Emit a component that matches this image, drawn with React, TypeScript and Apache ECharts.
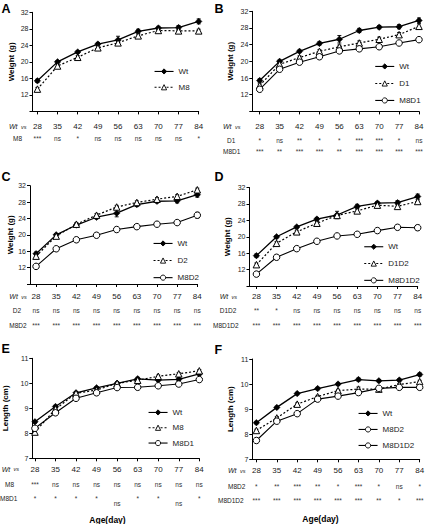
import React, { useEffect, useRef } from "react";
import * as echarts from "echarts";

// ---------- data ----------
const days = [28, 35, 42, 49, 56, 63, 70, 77, 84];

// body weight (g)
const wtWeight = [15.4, 20.0, 22.4, 24.3, 25.3, 27.4, 28.2, 28.3, 29.8];
const wtWeightErr = [0.4, 0.3, 0.3, 0.4, 0.9, 0.5, 0.4, 0.5, 0.6];
const m8Weight = [13.4, 19.0, 21.1, 23.4, 24.6, 26.3, 27.6, 27.5, 27.5];
const m8WeightErr = [0.4, 0.4, 0.4, 0.4, 0.4, 0.4, 0.4, 0.4, 0.4];
const d1Weight = [14.2, 19.3, 20.9, 22.4, 23.5, 24.4, 25.3, 26.4, 28.4];
const d1WeightErr = [0.4, 0.4, 0.4, 0.4, 0.4, 0.5, 0.5, 0.5, 0.6];
const m8d1Weight = [13.3, 18.1, 19.8, 21.1, 22.5, 23.0, 23.5, 24.4, 25.2];
const m8d1WeightErr = [0.5, 0.4, 0.4, 0.4, 0.4, 0.4, 0.5, 0.4, 0.4];
const d2Weight = [14.8, 19.7, 22.6, 24.8, 26.8, 27.9, 28.7, 29.4, 31.0];
const d2WeightErr = [0.4, 0.4, 0.4, 0.4, 0.4, 0.4, 0.4, 0.4, 0.4];
const m8d2Weight = [12.3, 16.6, 18.8, 19.9, 21.3, 22.0, 22.6, 23.0, 24.8];
const m8d2WeightErr = [0.4, 0.4, 0.4, 0.4, 0.4, 0.5, 0.5, 0.4, 0.7];
const d1d2Weight = [13.2, 18.4, 21.2, 23.3, 25.2, 26.3, 27.7, 27.4, 28.6];
const d1d2WeightErr = [0.4, 0.4, 0.4, 0.4, 0.4, 0.4, 0.4, 0.5, 0.4];
const m8d1d2Weight = [10.9, 15.0, 17.1, 18.9, 20.2, 20.6, 21.5, 22.3, 22.2];
const m8d1d2WeightErr = [0.4, 0.4, 0.3, 0.3, 0.3, 0.3, 0.3, 0.4, 0.6];

// body length (cm)
const wtLength = [8.46, 9.07, 9.62, 9.82, 10.0, 10.18, 10.13, 10.16, 10.38];
const wtLengthErr = [0.05, 0.05, 0.05, 0.05, 0.05, 0.06, 0.05, 0.05, 0.06];
const m8Length = [8.05, 8.97, 9.6, 9.73, 10.0, 10.12, 10.28, 10.38, 10.5];
const m8LengthErr = [0.05, 0.05, 0.05, 0.05, 0.05, 0.05, 0.05, 0.05, 0.05];
const m8d1Length = [8.2, 8.82, 9.4, 9.62, 9.83, 9.84, 9.9, 9.97, 10.15];
const m8d1LengthErr = [0.05, 0.05, 0.05, 0.05, 0.05, 0.05, 0.05, 0.05, 0.05];
const m8d2Length = [8.15, 8.65, 9.2, 9.5, 9.74, 9.8, 9.8, 9.98, 10.1];
const m8d2LengthErr = [0.05, 0.05, 0.05, 0.05, 0.05, 0.08, 0.05, 0.05, 0.05];
const m8d1d2Length = [7.75, 8.52, 8.82, 9.4, 9.52, 9.66, 9.83, 9.87, 9.87];
const m8d1d2LengthErr = [0.06, 0.05, 0.05, 0.05, 0.05, 0.05, 0.05, 0.05, 0.05];

// significance vs Wt
const sigA_M8 = ["***", "ns", "*", "ns", "ns", "ns", "ns", "ns", "*"];
const sigB_D1 = ["*", "ns", "**", "*", "*", "***", "***", "*", "ns"];
const sigB_M8D1 = ["***", "**", "***", "***", "**", "***", "***", "***", "***"];
const sigC_D2 = ["ns", "ns", "ns", "ns", "ns", "ns", "ns", "ns", "ns"];
const sigC_M8D2 = ["***", "***", "***", "***", "***", "***", "***", "***", "***"];
const sigD_D1D2 = ["**", "*", "ns", "ns", "ns", "ns", "ns", "ns", "ns"];
const sigD_M8D1D2 = ["***", "***", "***", "***", "***", "***", "***", "***", "***"];
const sigE_M8 = ["***", "ns", "ns", "ns", "ns", "ns", "ns", "ns", "ns"];
const sigE_M8D1 = ["*", "*", "*", "*", "ns", "*", "*", "ns", "*"];
const sigF_M8D2 = ["*", "**", "***", "**", "*", "***", "*", "ns", "*"];
const sigF_M8D1D2 = ["***", "***", "***", "***", "***", "***", "**", "*", "***"];

const weightTicks = { min: 8, max: 32, interval: 4 };
const lengthTicks = { min: 7, max: 11, interval: 1 };

// ---------- layout ----------
const FONT = "'Liberation Sans', Arial, Helvetica, sans-serif";
const LEG_H = 6.5;

type Kind = "wt" | "tri" | "circ";
interface Line { name: string; data: number[]; err: number[]; kind: Kind }
interface Row { label: string; sig: string[]; y: number; x: number; dropNs?: boolean }
interface Panel {
  letter: string; lx: number; ly: number;
  grid: { left: number; top: number; width: number; height: number };
  xMin: number; tickY: number; wtVsX: number;
  rows: Row[]; lines: Line[];
  legend: { left: number; firstY: number; step: number };
  yName: string; nameGap: number; ticks: { min: number; max: number; interval: number };
  age?: { x: number; y: number };
}

const panels: Panel[] = [
  {
    letter: "A", lx: 1.5, ly: 2.5,
    grid: { left: 32.5, top: 12.3, width: 166.2, height: 99.1 },
    xMin: 26.3, tickY: 126.7, wtVsX: 9,
    rows: [{ label: "M8", sig: sigA_M8, y: 138.3, x: 13 }],
    lines: [
      { name: "Wt", data: wtWeight, err: wtWeightErr, kind: "wt" },
      { name: "M8", data: m8Weight, err: m8WeightErr, kind: "tri" },
    ],
    legend: { left: 154, firstY: 70.7, step: 14.3 },
    yName: "Weight (g)", nameGap: 17, ticks: weightTicks,
  },
  {
    letter: "B", lx: 214.5, ly: 2.5,
    grid: { left: 252.3, top: 11.3, width: 166.7, height: 100.1 },
    xMin: 25.4, tickY: 126.7, wtVsX: 223,
    rows: [
      { label: "D1", sig: sigB_D1, y: 140, x: 227 },
      { label: "M8D1", sig: sigB_M8D1, y: 151.7, x: 223 },
    ],
    lines: [
      { name: "Wt", data: wtWeight, err: wtWeightErr, kind: "wt" },
      { name: "D1", data: d1Weight, err: d1WeightErr, kind: "tri" },
      { name: "M8D1", data: m8d1Weight, err: m8d1WeightErr, kind: "circ" },
    ],
    legend: { left: 374.7, firstY: 65.7, step: 15.5 },
    yName: "Weight (g)", nameGap: 18, ticks: weightTicks,
  },
  {
    letter: "C", lx: 1.5, ly: 170,
    grid: { left: 30, top: 185.7, width: 167.3, height: 98.3 },
    xMin: 25.9, tickY: 296.7, wtVsX: 9.3,
    rows: [
      { label: "D2", sig: sigC_D2, y: 310, x: 12.7 },
      { label: "M8D2", sig: sigC_M8D2, y: 325, x: 9.3 },
    ],
    lines: [
      { name: "Wt", data: wtWeight, err: wtWeightErr, kind: "wt" },
      { name: "D2", data: d2Weight, err: d2WeightErr, kind: "tri" },
      { name: "M8D2", data: m8d2Weight, err: m8d2WeightErr, kind: "circ" },
    ],
    legend: { left: 153, firstY: 242.7, step: 15.6 },
    yName: "Weight (g)", nameGap: 16, ticks: weightTicks,
  },
  {
    letter: "D", lx: 214.5, ly: 170,
    grid: { left: 249.5, top: 187.5, width: 168.2, height: 98.5 },
    xMin: 25.6, tickY: 296.7, wtVsX: 219.7,
    rows: [
      { label: "D1D2", sig: sigD_D1D2, y: 310.7, x: 219.7 },
      { label: "M8D1D2", sig: sigD_M8D1D2, y: 325, x: 213 },
    ],
    lines: [
      { name: "Wt", data: wtWeight, err: wtWeightErr, kind: "wt" },
      { name: "D1D2", data: d1d2Weight, err: d1d2WeightErr, kind: "tri" },
      { name: "M8D1D2", data: m8d1d2Weight, err: m8d1d2WeightErr, kind: "circ" },
    ],
    legend: { left: 363.7, firstY: 246, step: 15.3 },
    yName: "Weight (g)", nameGap: 18.5, ticks: weightTicks,
  },
  {
    letter: "E", lx: 1.5, ly: 342.5,
    grid: { left: 32.3, top: 358.3, width: 167, height: 100 },
    xMin: 27.1, tickY: 469.3, wtVsX: 1.7,
    rows: [
      { label: "M8", sig: sigE_M8, y: 484, x: 5 },
      { label: "M8D1", sig: sigE_M8D1, y: 498.3, x: 0, dropNs: true },
    ],
    lines: [
      { name: "Wt", data: wtLength, err: wtLengthErr, kind: "wt" },
      { name: "M8", data: m8Length, err: m8LengthErr, kind: "tri" },
      { name: "M8D1", data: m8d1Length, err: m8d1LengthErr, kind: "circ" },
    ],
    legend: { left: 148, firstY: 411.7, step: 13.8 },
    yName: "Length (cm)", nameGap: 22.5, ticks: lengthTicks,
    age: { x: 107.5, y: 519.5 },
  },
  {
    letter: "F", lx: 214.5, ly: 343,
    grid: { left: 252.3, top: 359, width: 167.4, height: 100.3 },
    xMin: 26.6, tickY: 470.7, wtVsX: 228,
    rows: [
      { label: "M8D2", sig: sigF_M8D2, y: 486, x: 228 },
      { label: "M8D1D2", sig: sigF_M8D1D2, y: 500, x: 218 },
    ],
    lines: [
      { name: "Wt", data: wtLength, err: wtLengthErr, kind: "wt" },
      { name: "M8D2", data: m8d2Length, err: m8d2LengthErr, kind: "tri" },
      { name: "M8D1D2", data: m8d1d2Length, err: m8d1d2LengthErr, kind: "circ" },
    ],
    legend: { left: 358, firstY: 412.7, step: 14.5 },
    yName: "Length (cm)", nameGap: 18.3, ticks: lengthTicks,
    age: { x: 320.5, y: 518.5 },
  },
];

function styleFor(kind: Kind) {
  if (kind === "wt") {
    return {
      symbol: "diamond", symbolSize: 6.5,
      itemStyle: { color: "#000", borderColor: "#000", borderWidth: 0.5 },
      lineStyle: { color: "#000", width: 1.3, type: "solid" as const },
    };
  }
  if (kind === "tri") {
    return {
      symbol: "triangle", symbolSize: 6.5,
      itemStyle: { color: "#fff", borderColor: "#000", borderWidth: 1 },
      lineStyle: { color: "#000", width: 1.2, type: [2, 2] as any },
    };
  }
  return {
    symbol: "circle", symbolSize: 6.5,
    itemStyle: { color: "#fff", borderColor: "#000", borderWidth: 1 },
    lineStyle: { color: "#000", width: 1.1, type: "solid" as const },
  };
}

function buildOption() {
  const grid: any[] = [];
  const xAxis: any[] = [];
  const yAxis: any[] = [];
  const series: any[] = [];
  const legend: any[] = [];
  const graphic: any[] = [];

  panels.forEach((p, gi) => {
    grid.push({ ...p.grid, containLabel: false, outerBoundsMode: "none" });
    const axisBottom = p.grid.top + p.grid.height;

    const mainX = xAxis.length;
    xAxis.push({
      type: "value", gridIndex: gi, min: p.xMin, max: 84, position: "bottom",
      axisLine: { show: true, onZero: false, lineStyle: { color: "#000", width: 1 } },
      axisTick: { show: true, length: 3, customValues: days, lineStyle: { color: "#000" } },
      splitLine: { show: false },
      axisLabel: {
        customValues: days, fontSize: 8, color: "#222", fontFamily: FONT,
        verticalAlign: "middle", margin: p.tickY - axisBottom,
        formatter: (v: number) => String(v),
      },
    });
    p.rows.forEach((r) => {
      xAxis.push({
        type: "value", gridIndex: gi, min: p.xMin, max: 84, position: "bottom",
        offset: r.y - axisBottom,
        axisLine: { show: false, onZero: false }, axisTick: { show: false },
        splitLine: { show: false },
        axisLabel: {
          customValues: days, fontSize: 6.5, color: "#333", fontFamily: FONT,
          verticalAlign: "middle", margin: 0,
          formatter: (v: number) => {
            const s = r.sig[Math.round((v - 28) / 7)] ?? "";
            return r.dropNs && s === "ns" ? "{low|ns}" : s;
          },
          rich: { low: { fontSize: 6.5, color: "#333", fontFamily: FONT, padding: [10, 0, 0, 0] } },
        },
      });
      graphic.push({
        type: "text", x: r.x, y: r.y,
        style: { text: r.label, fontSize: 6.5, fill: "#222", fontFamily: FONT, verticalAlign: "middle", align: "left" },
      });
    });

    yAxis.push({
      type: "value", gridIndex: gi, min: p.ticks.min, max: p.ticks.max, interval: p.ticks.interval,
      axisLine: { show: true, onZero: false, lineStyle: { color: "#000", width: 1 } },
      axisTick: { show: true, length: 3, lineStyle: { color: "#000" } },
      splitLine: { show: false },
      axisLabel: {
        fontSize: 7, color: "#222", fontFamily: FONT, margin: 4,
        formatter: (v: number) => (v === 8 && p.ticks.min === 8 ? "" : String(v)),
      },
      name: p.yName, nameLocation: "middle", nameRotate: 90, nameGap: p.nameGap,
      nameTextStyle: { fontWeight: "bold", fontSize: 8, color: "#000", fontFamily: FONT },
    });

    p.lines.forEach((l) => {
      const st = styleFor(l.kind);
      series.push({
        type: "custom", name: "err-" + l.name + "-" + p.letter,
        xAxisIndex: mainX, yAxisIndex: gi, z: 1, silent: true,
        data: days.map((d, i) => [d, l.data[i], l.err[i]]),
        encode: { x: 0, y: 1 },
        renderItem: (_params: any, api: any) => {
          const x = api.value(0), y = api.value(1), e = api.value(2);
          const top = api.coord([x, y + e]);
          const bot = api.coord([x, y - e]);
          const c = 2;
          const style = { stroke: "#000", lineWidth: 0.9 };
          return {
            type: "group",
            children: [
              { type: "line", shape: { x1: top[0], y1: top[1], x2: bot[0], y2: bot[1] }, style },
              { type: "line", shape: { x1: top[0] - c, y1: top[1], x2: top[0] + c, y2: top[1] }, style },
              { type: "line", shape: { x1: bot[0] - c, y1: bot[1], x2: bot[0] + c, y2: bot[1] }, style },
            ],
          };
        },
      });
      series.push({
        type: "line", name: l.name, xAxisIndex: mainX, yAxisIndex: gi, z: 3,
        data: days.map((d, i) => [d, l.data[i]]),
        ...st,
      });
    });

    legend.push({
      orient: "vertical", left: p.legend.left, top: p.legend.firstY - LEG_H / 2,
      itemWidth: 19, itemHeight: LEG_H, itemGap: p.legend.step - LEG_H,
      selectedMode: false, padding: 0,
      itemStyle: { borderWidth: 0.9 },
      lineStyle: { width: 1.1 },
      textStyle: { fontSize: 8, color: "#222", fontFamily: FONT, lineHeight: LEG_H },
      data: p.lines.map((l) => l.name),
    });

    graphic.push({
      type: "text", x: p.lx, y: p.ly,
      style: { text: p.letter, fontSize: 12.5, fontWeight: "bold", fill: "#000", fontFamily: FONT, verticalAlign: "top", align: "left" },
    });
    graphic.push({
      type: "text", x: p.wtVsX, y: p.tickY,
      style: {
        text: "{a|Wt} {b|vs}", verticalAlign: "middle", align: "left",
        rich: {
          a: { fontSize: 7, fontStyle: "italic", fill: "#222", fontFamily: FONT },
          b: { fontSize: 5.5, fontStyle: "italic", fill: "#222", fontFamily: FONT },
        },
      },
    });
    if (p.age) {
      graphic.push({
        type: "text", x: p.age.x, y: p.age.y,
        style: { text: "Age(day)", fontSize: 8.5, fontWeight: "bold", fill: "#000", fontFamily: FONT, verticalAlign: "middle", align: "center" },
      });
    }
  });

  return {
    animation: false,
    backgroundColor: "#fff",
    textStyle: { fontFamily: FONT },
    grid, xAxis, yAxis, series, legend, graphic,
  };
}

export default function App() {
  const ref = useRef<HTMLDivElement>(null);
  useEffect(() => {
    if (!ref.current) return;
    const chart = echarts.init(ref.current, undefined, { renderer: "svg" });
    chart.setOption(buildOption() as any);
    return () => chart.dispose();
  }, []);
  return (
    <div
      ref={ref}
      style={{ position: "fixed", left: 0, top: 0, width: 427, height: 524, background: "#fff" }}
    />
  );
}
